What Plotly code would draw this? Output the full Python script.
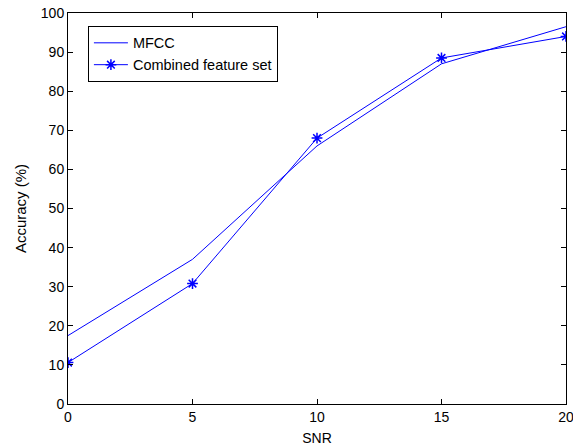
import plotly.graph_objects as go

snr = [0, 5, 10, 15, 20]
mfcc = [17.5, 37, 66, 87, 96.5]
combined = [10.6, 30.8, 68, 88.5, 94]
x_ticks = [0, 5, 10, 15, 20]
y_ticks = [0, 10, 20, 30, 40, 50, 60, 70, 80, 90, 100]

FONT = "Liberation Sans, Arial"

fig = go.Figure()
fig.add_trace(go.Scatter(x=snr, y=mfcc, mode="lines", name="MFCC",
                         line=dict(color="#0000ff", width=1)))
fig.add_trace(go.Scatter(x=snr, y=combined, mode="lines+markers",
                         name="Combined feature set",
                         line=dict(color="#0000ff", width=1),
                         marker=dict(symbol="asterisk-open", size=9,
                                     line=dict(color="#0000ff", width=1.5))))

axis_common = dict(showgrid=False, zeroline=False, showline=True,
                   linecolor="black", linewidth=1, mirror="ticks",
                   ticks="inside", ticklen=5, tickcolor="black",
                   automargin=False, ticklabeloverflow="allow",
                   tickfont=dict(family=FONT, size=14, color="black"))

fig.update_xaxes(range=[0, 20], tickvals=x_ticks,
                 title=dict(text="SNR", font=dict(family=FONT, size=14, color="black"),
                            standoff=9),
                 **axis_common)
fig.update_yaxes(range=[0, 100], tickvals=y_ticks,
                 title=dict(text="Accuracy (%)", font=dict(family=FONT, size=15, color="black"),
                            standoff=10),
                 **axis_common)

fig.update_layout(
    width=573, height=448,
    margin=dict(l=68, r=7, t=13, b=44),
    plot_bgcolor="white", paper_bgcolor="white",
    showlegend=True,
    legend=dict(x=0.04, y=0.967, xanchor="left", yanchor="top",
                bgcolor="white", bordercolor="black", borderwidth=1,
                font=dict(family=FONT, size=14.5, color="black"),
                tracegroupgap=0, itemwidth=34),
)

fig.write_html("out.html", config={"displayModeBar": False},
               post_script="document.body.style.margin='0';document.body.style.overflow='hidden';")
